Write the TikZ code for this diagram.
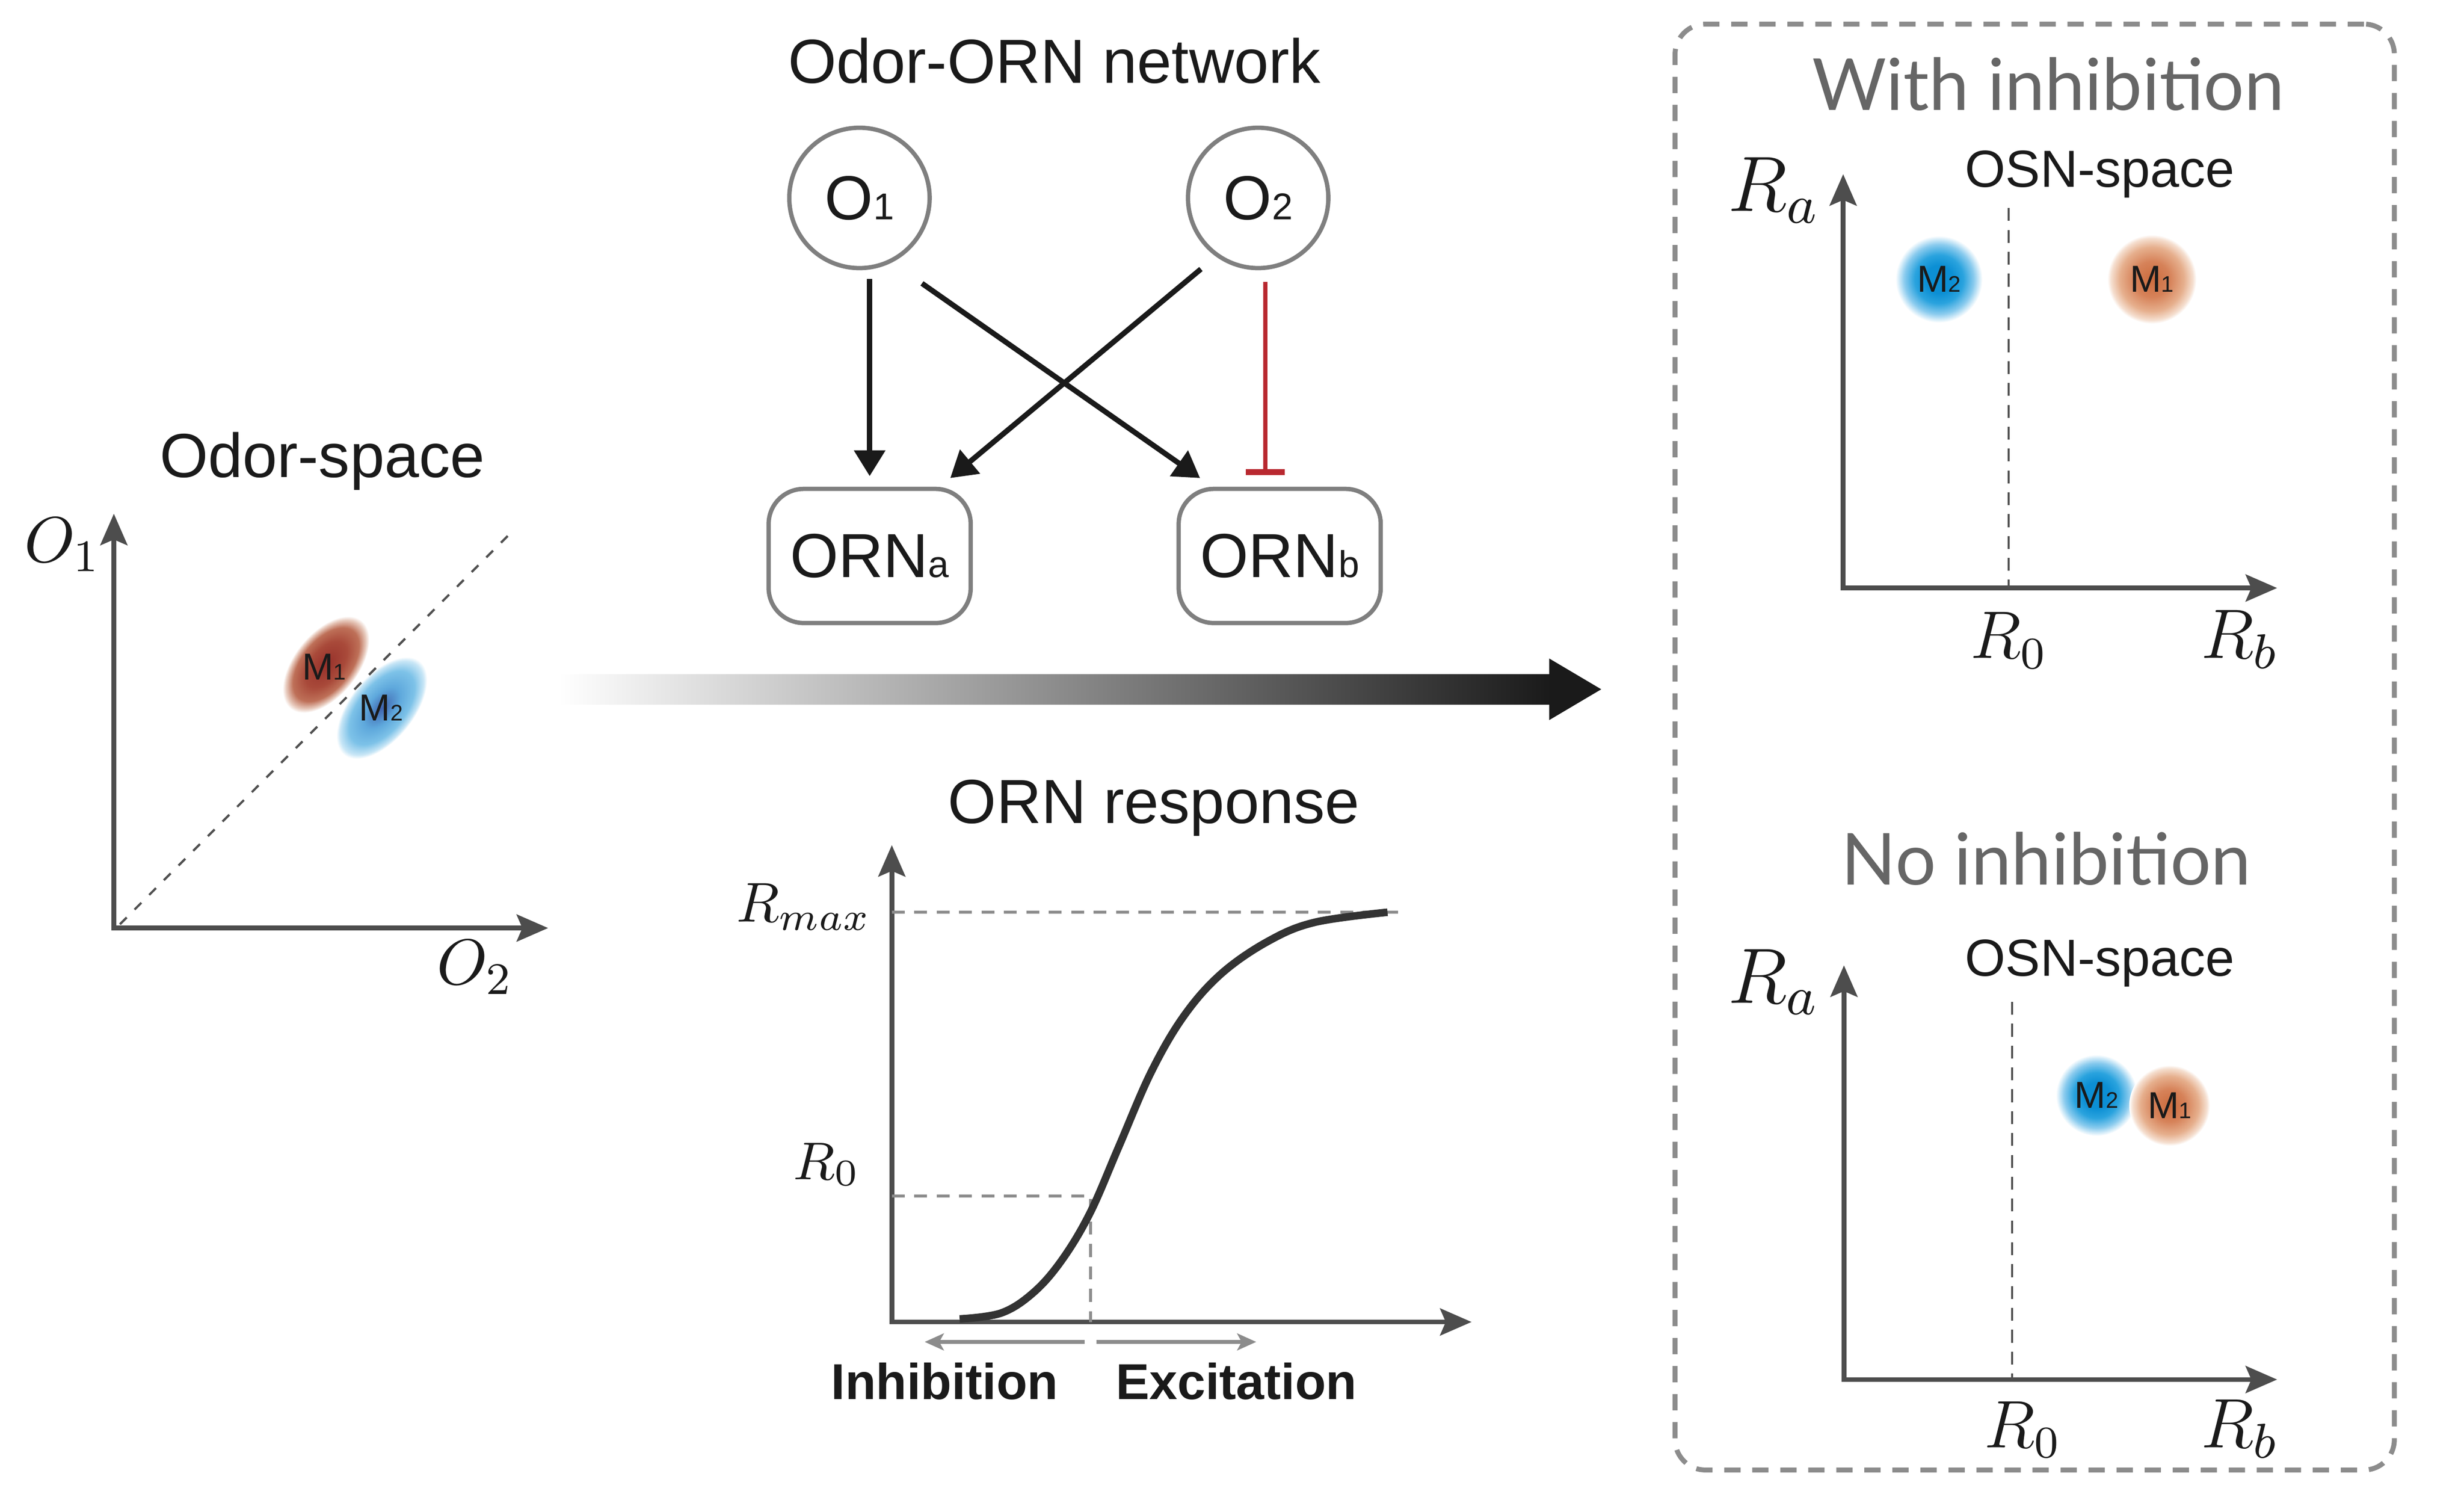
\RequirePackage{fix-cm}
\documentclass[tikz,border=0pt]{standalone}
\usepackage[no-math]{fontspec}
\setmainfont{Liberation Sans}
\newfontfamily\gillfont{Lato}
\usepackage{graphicx}
\usetikzlibrary{arrows.meta,calc,positioning}

\definecolor{txtblack}{HTML}{1A1A1A}
\definecolor{arrowblack}{HTML}{1A1A1A}
\definecolor{axisgray}{HTML}{4D4D4D}
\definecolor{bordergray}{HTML}{7F7F7F}
\definecolor{dashgray}{HTML}{8C8C8C}
\definecolor{darkdash}{HTML}{505050}
\definecolor{headgray}{HTML}{666666}
\definecolor{curvegray}{HTML}{333333}
\definecolor{inhred}{HTML}{B8282F}
% blob colours
\definecolor{redcore}{HTML}{96302A}
\definecolor{redmid}{HTML}{A94A3A}
\definecolor{redrim}{HTML}{BE7058}
\definecolor{redfade}{HTML}{E8CBBE}
\definecolor{bluecore}{HTML}{3F63AE}
\definecolor{bluemid}{HTML}{5EA8DC}
\definecolor{bluerim}{HTML}{7DC2E8}
\definecolor{bluefade}{HTML}{C8E6F6}
\definecolor{skycore}{HTML}{0C8FD4}
\definecolor{skymid}{HTML}{2AA3DE}
\definecolor{skyrim}{HTML}{8ACBEE}
\definecolor{orcore}{HTML}{CC6C3E}
\definecolor{ormid}{HTML}{D68259}
\definecolor{orrim}{HTML}{E6AF8D}
\definecolor{orfade}{HTML}{F5DFD0}

\pgfdeclareradialshading{odorred}{\pgfpoint{0bp}{0bp}}{color(0bp)=(redcore); color(12bp)=(redmid); color(19bp)=(redrim); color(23bp)=(redfade); color(25bp)=(white); color(50bp)=(white)}
\pgfdeclareradialshading{odorblue}{\pgfpoint{0bp}{0bp}}{color(0bp)=(bluecore); color(10bp)=(bluemid); color(18bp)=(bluerim); color(23bp)=(bluefade); color(25bp)=(white); color(50bp)=(white)}
\pgfdeclareradialshading{skyblob}{\pgfpoint{0bp}{0bp}}{color(0bp)=(skycore); color(8bp)=(skycore); color(14bp)=(skymid); color(20bp)=(skyrim); color(25bp)=(white); color(50bp)=(white)}
\pgfdeclareradialshading{orblob}{\pgfpoint{0bp}{0bp}}{color(0bp)=(orcore); color(10bp)=(ormid); color(18bp)=(orrim); color(23bp)=(orfade); color(25bp)=(white); color(50bp)=(white)}

\newcommand{\subix}[1]{\scalebox{0.6}{#1}}
\newcommand{\fsz}[1]{\fontsize{#1}{#1}\selectfont}

\begin{document}
\begin{tikzpicture}[
  node distance=1.3cm and 1.6cm,
  ttl/.style={anchor=base, inner sep=0pt, text=txtblack, font=\fsz{11.1}},
  mathlbl/.style={inner sep=0pt, text=txtblack},
  axpair/.style={axisgray, line width=0.85pt, {Stealth[length=5.6pt,width=4.8pt,inset=1pt]}-{Stealth[length=5.6pt,width=4.8pt,inset=1pt]}},
  odor/.style={circle, draw=bordergray, line width=0.77pt, minimum size=0.88cm, inner sep=0pt, outer sep=0pt, text=txtblack, font=\fsz{11.1}},
  orn/.style={rectangle, rounded corners=0.22cm, draw=bordergray, line width=0.77pt, minimum width=1.267cm, minimum height=0.841cm, inner sep=0pt, outer sep=0pt, text=txtblack, font=\fsz{11.1}},
  excite/.style={-{Triangle[length=4.6pt,width=5.4pt]}, arrowblack, line width=0.95pt},
  inhibit/.style={-{Bar[width=7pt,line width=0.3pt 1]}, inhred, line width=0.75pt},
  guide/.style={dashgray, line width=0.5pt, dash pattern=on 2.3pt off 1.7pt},
  diag/.style={darkdash, line width=0.4pt, dash pattern=on 1.7pt off 2pt},
  rzero/.style={darkdash, line width=0.4pt, dash pattern=on 2.3pt off 1.6pt},
  sigm/.style={curvegray, line width=1.35pt},
  side/.style={dashgray, line width=0.7pt, -{Stealth[length=3.4pt,width=3pt,inset=0.8pt]}},
  blob/.style={circle, inner sep=0pt, text=txtblack, font=\fsz{6.7}},
  panel/.style={draw=dashgray, line width=0.88pt, dash pattern=on 2.9pt off 2.1pt, rounded corners=0.19cm},
  caselbl/.style={anchor=base, inner sep=0pt, text=headgray, font=\gillfont\fsz{12.8}},
  osnlbl/.style={anchor=base, inner sep=0pt, text=txtblack, font=\fsz{9.3}}
]
\useasboundingbox (0,0) rectangle (15.45,9.442);

% Left: odor space
\node[ttl] (ostitle) at (2.021,6.450) {Odor-space};
\coordinate (oso) at (0.714,3.623);
\coordinate (osy) at (0.714,6.221);
\coordinate (osx) at (3.437,3.623);
\draw[axpair] (osy) -- (oso) -- (osx);
\node[mathlbl, font=\fsz{11.5}] (oslab1) at (0.392,6.027) {$O_1$};
\node[mathlbl, font=\fsz{11.5}] (oslab2) at (2.978,3.377) {$O_2$};

\coordinate (m1c) at (2.044,5.275);
\coordinate (m2c) at (2.394,5.003);
\begin{scope}[transform canvas={rotate around={51:(m1c)}}]
  \shade[shading=odorred] (m1c) ellipse (0.355 and 0.199);
\end{scope}
\begin{scope}[transform canvas={rotate around={51:(m2c)}}]
  \shade[shading=odorblue] (m2c) ellipse (0.378 and 0.201);
\end{scope}
\coordinate (dg0) at (0.752,3.647);
\coordinate (dg1) at (3.214,6.112);
\draw[diag] (dg0) -- (dg1);
\node[blob] (om1) at (2.033,5.259) {M\subix{1}};
\node[blob] (om2) at (2.389,5.003) {M\subix{2}};

% Top middle: odor-ORN network
\node[ttl] (nettitle) at (6.611,8.922) {Odor-ORN network};
\node[odor] (O1) at (5.389,8.201) {O\subix{1}};
\node[odor, right=1.62cm of O1] (O2) {O\subix{2}};
\node[orn, below=1.3845cm of O1, xshift=0.064cm] (ORNa) {ORN\subix{a}};
\node[orn, right=1.304cm of ORNa] (ORNb) {ORN\subix{b}};

\draw[excite, shorten <=0.68mm, shorten >=0.8mm] (ORNa.north |- O1.south) -- (ORNa.north);
\draw[excite] ($(O1)+(0.392,-0.536)$) -- ($(ORNb.north west)+(0.134,0.068)$);
\draw[excite] ($(O2)+(-0.359,-0.446)$) -- ($(ORNa.north east)+(-0.128,0.068)$);
\draw[inhibit] ($(O2)+(0.045,-0.527)$) -- ($(ORNb.north)+(-0.09,0.088)$);

% Gradient arrow
\coordinate (gtail) at (3.505,5.120);
\coordinate (gneck) at (9.714,5.120);
\coordinate (gtip) at (10.040,5.120);
\shade[left color=white, right color=arrowblack] ($(gtail)+(0,0.094)$) rectangle ($(gneck)+(0.01,-0.094)$);
\fill[arrowblack] ($(gneck)+(0,0.193)$) -- (gtip) -- ($(gneck)+(0,-0.193)$) -- cycle;

% Bottom middle: ORN response
\node[ttl] (rtitle) at (7.235,4.280) {ORN response};
\coordinate (rso) at (5.592,1.153);
\coordinate (rsy) at (5.592,4.143);
\coordinate (rsx) at (9.227,1.153);
\draw[axpair] (rsy) -- (rso) -- (rsx);
\coordinate (rmax) at (5.592,3.722);
\coordinate (rmaxend) at (8.816,3.722);
\draw[guide] (rmax) -- (rmaxend);
\coordinate (rzy) at (5.592,1.943);
\coordinate (rzx) at (6.837,1.153);
\draw[guide] (rzy) -| (rzx);
\draw[sigm] plot[smooth, tension=0.6] coordinates {(6.017,1.172) (6.280,1.210) (6.485,1.342) (6.663,1.548) (6.837,1.841) (7.015,2.252) (7.218,2.720) (7.424,3.073) (7.658,3.337) (7.951,3.540) (8.244,3.659) (8.700,3.722)};
\node[mathlbl, font=\fsz{10}, anchor=base east] (rmaxlab) at (5.47,3.663) {$R_{max}$};
\node[mathlbl, font=\fsz{9.5}, anchor=base east] (rzlab) at (5.40,2.047) {$R_0$};

\coordinate (split) at (6.837,1.028);
\coordinate (inhtip) at (5.798,1.028);
\coordinate (exctip) at (7.877,1.028);
\draw[side] ($(split)+(-0.037,0)$) -- (inhtip);
\draw[side] ($(split)+(0.038,0)$) -- (exctip);
\node[anchor=base, inner sep=0pt, text=txtblack, font=\bfseries\fsz{9}] (inhlab) at (5.923,0.669) {Inhibition};
\node[anchor=base, inner sep=0pt, text=txtblack, font=\bfseries\fsz{9}] (exclab) at (7.752,0.669) {Excitation};

% Right: OSN space, two cases
\node[panel, minimum width=4.51cm, minimum height=9.066cm, inner sep=0pt] (casebox) at (12.758,4.758) {};

% With inhibition
\node[caselbl] (withlab) at (12.843,8.752) {With inhibition};
\node[osnlbl] (osnw) at (13.165,8.270) {OSN-space};
\coordinate (wo) at (11.557,5.755);
\coordinate (wy) at (11.557,8.350);
\coordinate (wx) at (14.278,5.755);
\draw[axpair] (wy) -- (wo) -- (wx);
\coordinate (wr0top) at (12.595,8.137);
\coordinate (wr0) at (12.595,5.755);
\draw[rzero] (wr0top) -- (wr0);
\node[mathlbl, font=\fsz{14}] (wra) at (11.122,8.249) {$R_a$};
\node[mathlbl, font=\fsz{12}, anchor=base] (wr0lab) at (12.597,5.315) {$R_0$};
\node[mathlbl, font=\fsz{12.5}, anchor=base] (wrblab) at (14.044,5.315) {$R_b$};
\node[blob, shade, shading=skyblob, minimum size=0.545cm] (wm2) at (12.158,7.691) {M\subix{2}};
\node[blob, shade, shading=orblob, minimum size=0.558cm] (wm1) at (13.493,7.691) {M\subix{1}};

% No inhibition
\node[caselbl] (nolab) at (12.831,3.893) {No inhibition};
\node[osnlbl] (osnn) at (13.165,3.323) {OSN-space};
\coordinate (no) at (11.562,0.792);
\coordinate (ny) at (11.562,3.389);
\coordinate (nx) at (14.278,0.792);
\draw[axpair] (ny) -- (no) -- (nx);
\coordinate (nr0top) at (12.616,3.160);
\coordinate (nr0) at (12.616,0.792);
\draw[rzero] (nr0top) -- (nr0);
\node[mathlbl, font=\fsz{14}] (nra) at (11.120,3.285) {$R_a$};
\node[mathlbl, font=\fsz{12}, anchor=base] (nr0lab) at (12.682,0.366) {$R_0$};
\node[mathlbl, font=\fsz{12.5}, anchor=base] (nrblab) at (14.044,0.366) {$R_b$};
\node[blob, shade, shading=skyblob, minimum size=0.51cm] (nm2) at (13.146,2.574) {M\subix{2}};
\node[blob, shade, shading=orblob, minimum size=0.506cm] (nm1) at (13.604,2.510) {M\subix{1}};

\end{tikzpicture}
\end{document}
